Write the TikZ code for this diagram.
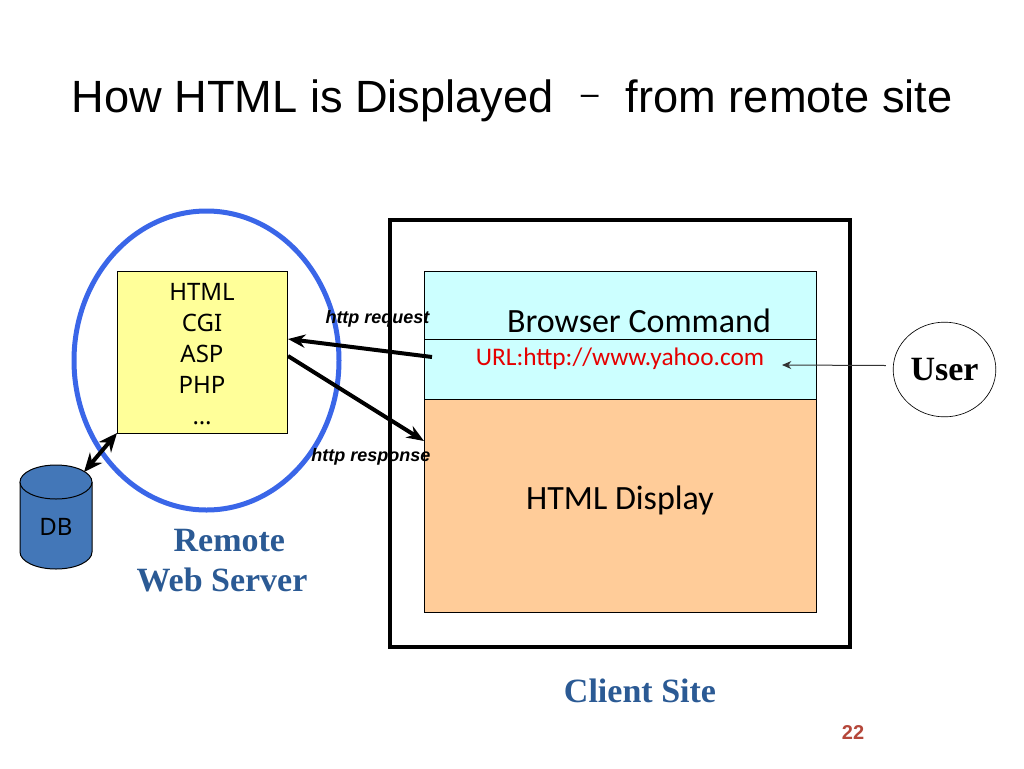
\documentclass[tikz,border=0pt]{standalone}
\usepackage{fontspec}
\usepackage{xcolor}
\setmainfont{Liberation Sans}
\newfontfamily\bodyfont{Carlito}
\newfontfamily\listfont{Noto Sans}
\newfontfamily\capfont{Liberation Serif}
\usetikzlibrary{shapes.geometric, arrows.meta, positioning, calc}
\definecolor{ringblue}{HTML}{3A66E8}
\definecolor{dbblue}{HTML}{4377B8}
\definecolor{capblue}{HTML}{2B5A94}
\definecolor{pagered}{HTML}{B5473A}
\definecolor{browsercyan}{HTML}{CCFFFF}
\definecolor{displayorange}{HTML}{FFCC99}
\definecolor{htmlyellow}{HTML}{FFFF99}

\begin{document}
\begin{tikzpicture}[
    x=0.75pt, y=-0.75pt,
    panel/.style={draw, line width=0.5pt, rectangle, minimum width=294pt, inner sep=0pt, outer sep=0pt},
    bodytext/.style={font=\bodyfont\fontsize{25.5}{30}\selectfont, inner sep=0pt},
    caption/.style={font=\capfont\bfseries\fontsize{25.5}{30}\selectfont, text=capblue, align=center, inner sep=0pt},
    httplabel/.style={font=\bfseries\itshape\fontsize{13.5}{16}\selectfont, inner sep=0pt},
    arrow/.style={line width=3pt,-{Stealth[length=13pt,width=10pt]}}
]
\useasboundingbox (0,0) rectangle (1024,768);

% Nodes
\node (title) [font=\fontsize{33.9}{40}\selectfont, inner sep=0pt] at (512,100.5) {How HTML is Displayed\hspace{20.4pt}\raisebox{5.5pt}{\fontsize{24}{24}\selectfont --}\hspace{20.4pt}from remote site};
\node (client) [draw, line width=3pt, rectangle, minimum width=345pt, minimum height=320pt, inner sep=0pt] at (620,433.5) {};
\node (browser) [panel, fill=browsercyan, minimum height=51pt] at (620,305) {};
\node (url) [panel, fill=browsercyan, minimum height=45pt, below=0pt of browser] {};
\node (display) [panel, fill=displayorange, minimum height=159.75pt, below=0pt of url] {};
\node (browsertext) [bodytext] at (639,321) {Browser Command};
\node (urltext) [bodytext, text=red!90!black, font=\bodyfont\fontsize{19}{22}\selectfont] at (620,358.5) {URL:http://www.yahoo.com};
\node (displaytext) [bodytext] at (620,500) {HTML Display};
\node (server) [draw=ringblue, line width=3.75pt, ellipse, minimum width=198.75pt, minimum height=224.25pt, inner sep=0pt] at (206.5,360.5) {};
\node (html) [draw, line width=0.5pt, rectangle, fill=htmlyellow, minimum width=127.5pt, minimum height=121.5pt, inner sep=0pt, outer sep=0pt] at (202,352) {};
\node (htmltext) [font=\listfont\fontsize{18}{23.25}\selectfont, align=center, inner sep=0pt, anchor=north] at (202,283) {HTML\\CGI\\ASP\\PHP\\\dots};

% Database drum
\draw[line width=0.75pt, fill=dbblue] (20,482) -- (20,552) arc[start angle=180, end angle=360, x radius=27pt, y radius=12.75pt] -- (92,482);
\draw[line width=0.75pt, fill=dbblue] (56,482) ellipse [x radius=27pt, y radius=12.75pt];
\coordinate (dbtop) at (84,472);
\node (db) [font=\listfont\fontsize{18}{21}\selectfont, inner sep=0pt] at (56,527) {DB};

\node (user) [draw, line width=0.5pt, ellipse, minimum width=77pt, minimum height=71pt, inner sep=0pt, font=\capfont\bfseries\fontsize{25.5}{30}\selectfont] at (944.5,369.5) {User};
\node (remote) [caption] at (222,561) {\hspace*{11pt}Remote\\Web Server};
\node (clientcap) [caption] at (640,691) {Client Site};
\node (request) [httplabel] at (377.5,319) {http request};
\node (response) [httplabel] at (371,457) {http response};
\node (pagenum) [font=\bfseries\fontsize{15}{18}\selectfont, text=pagered, inner sep=0pt] at (853,733) {22};

% Links
\draw[arrow] ($(url.west)+(8,-12)$) -- ($(html.east)+(1,-13)$);
\draw[arrow] ($(html.east)+(1,4)$) -- ($(display.north west)+(0,42)$);
\draw[arrow, {Stealth[length=14pt,width=12pt]}-{Stealth[length=14pt,width=12pt]}] (html.south west) -- (dbtop);
\draw[-{Stealth[length=7pt,width=6pt]}, line width=0.75pt, black!80] ($(user.west)+(-7,-4)$) -- ($(url.west)+(358,-4)$);

\end{tikzpicture}
\end{document}
